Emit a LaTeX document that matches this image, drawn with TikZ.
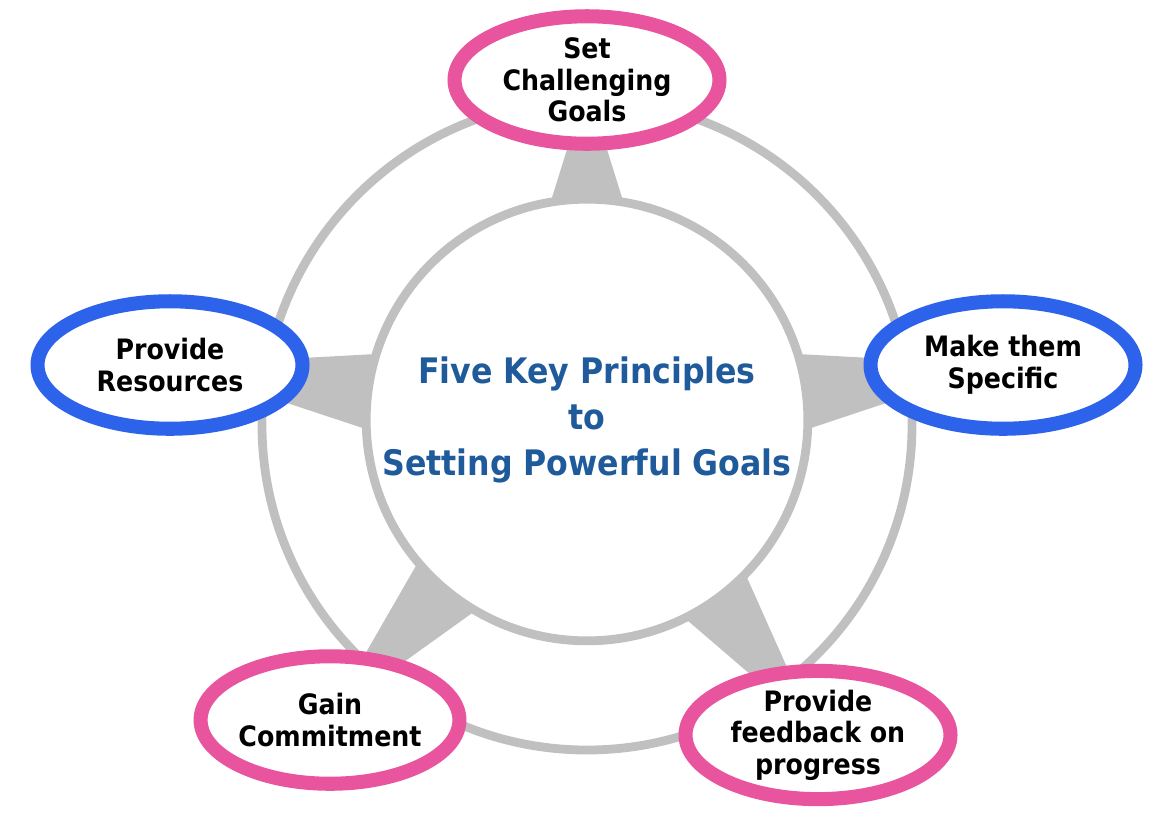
\documentclass[tikz,border=0pt]{standalone}
\usepackage{fontspec}
\setmainfont{DejaVu Sans Condensed}
\usetikzlibrary{shapes.geometric,calc}
\definecolor{pinkring}{HTML}{E8559E}
\definecolor{bluering}{HTML}{2D62EB}
\definecolor{ringgray}{HTML}{C0C0C0}
\definecolor{titleblue}{HTML}{1F5A9A}
\tikzset{
  goal/.style={ellipse, draw=#1, line width=8pt, fill=white, minimum width=5.3cm,
    minimum height=2.55cm, align=center, font=\bfseries\fontsize{16}{18}\selectfont, inner sep=0pt},
  spike/.style={fill=ringgray, draw=none}
}
\begin{document}
\begin{tikzpicture}[x=0.02cm,y=-0.02cm]
    \useasboundingbox (0,0) rectangle (1165,816);
    % Ring
    \draw[ringgray, line width=5pt] (587,425) circle (325);
    % Centre
    \coordinate (c) at (587,420);
    % Spikes
    \foreach \a/\tx/\ty in {90/587/85, 7.5/1000/365, 172.5/172/365, -130/330/715, -54/815/730}{
      \fill[spike] ($(c)+({11-\a}:210)$) -- ($(c)+({-11-\a}:210)$) -- (\tx,\ty) -- cycle;
    }
    \node[circle, draw=ringgray, line width=5pt, fill=white, minimum size=8.4cm, align=center,
      text=titleblue, font=\bfseries\fontsize{20}{26}\selectfont] (core) at (c)
      {Five Key Principles\\to\\Setting Powerful Goals};
    % Principles
    \node[goal=pinkring] (challenge) at (587,80) {Set\\Challenging\\Goals};
    \node[goal=bluering] (specific) at (1003,365) {Make them\\Specific};
    \node[goal=bluering] (resources) at (170,365) {Provide\\Resources};
    \node[goal=pinkring, minimum width=4.4cm] (commit) at (330,720) {Gain\\Commitment};
    \node[goal=pinkring] (feedback) at (818,735) {Provide\\feedback on\\progress};
\end{tikzpicture}
\end{document}
